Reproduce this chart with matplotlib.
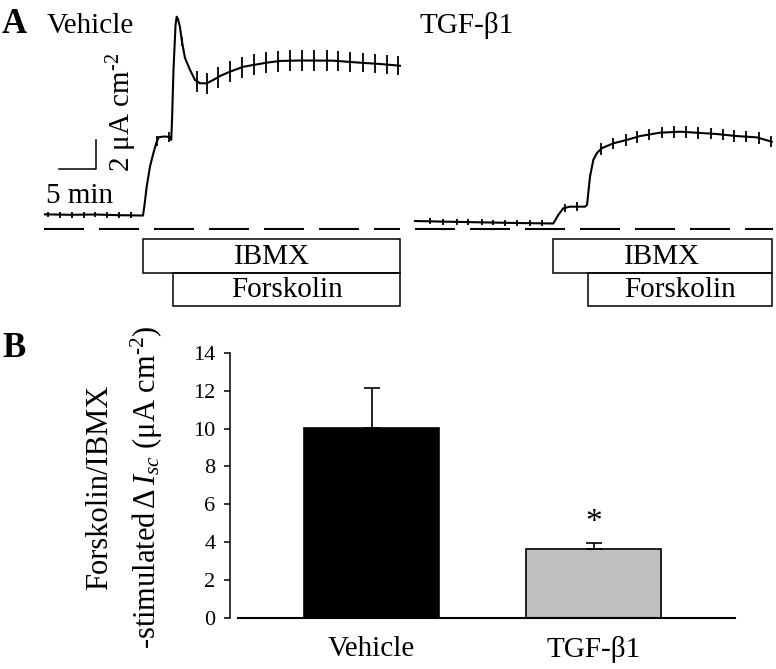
import matplotlib

matplotlib.use("Agg")
import matplotlib.pyplot as plt
import numpy as np
from matplotlib.patches import Rectangle

plt.rcParams["font.family"] = "serif"
plt.rcParams["font.serif"] = ["Liberation Serif", "DejaVu Serif"]
plt.rcParams["mathtext.fontset"] = "custom"
plt.rcParams["mathtext.rm"] = "Liberation Serif"
plt.rcParams["mathtext.it"] = "Liberation Serif:italic"
plt.rcParams["lines.scale_dashes"] = False

# --- panel A: Isc traces (time in min, current in uA/cm2 above the zero line)
veh_t = [0, 3.43, 6.87, 10.30, 13.46, 13.67, 13.97, 14.42, 14.88, 15.34, 15.66, 16.48,
         17.17, 17.34, 17.45, 17.65, 17.93, 18.09, 18.27, 18.54, 18.78, 19.23, 19.92,
         20.60, 21.29, 22.21, 23.12, 24.04, 25.41, 27.24, 30.45, 32.28, 35.03, 39.56,
         43.27, 46.02, 48.76]
veh_i = [1.01, 0.98, 1.00, 0.95, 0.93, 1.66, 2.92, 4.30, 5.22, 6.02, 6.34, 6.38,
         6.34, 6.14, 7.52, 10.97, 14.07, 14.64, 14.48, 13.93, 13.03, 11.79, 10.97,
         10.28, 10.05, 10.05, 10.28, 10.55, 10.85, 11.19, 11.47, 11.59, 11.62, 11.61,
         11.47, 11.38, 11.26]
veh_spike_t = [0.41, 2.06, 3.71, 5.36, 6.87, 8.52, 10.16, 11.81, 15.38, 17.10, 18.82,
               20.84, 22.21, 23.76, 25.41, 27.02, 28.71, 30.36, 32.05, 33.65, 35.26,
               36.95, 38.69, 40.29, 41.90, 43.64, 45.33, 46.94, 48.53]
veh_spike_h = [0.2, 0.2, 0.2, 0.2, 0.2, 0.2, 0.2, 0.2, 0.35, 0.35, 0.3,
               0.72, 0.72, 0.72, 0.72, 0.72, 0.72, 0.72, 0.72, 0.72, 0.72,
               0.7, 0.7, 0.68, 0.68, 0.65, 0.65, 0.63, 0.63]

tgf_t = [0, 4.81, 8.93, 14.42, 19.00, 19.68, 20.37, 21.29, 23.35, 23.63, 23.80, 24.04,
         24.49, 24.96, 25.65, 27.24, 29.08, 30.91, 33.65, 36.40, 38.70, 41.44, 44.19,
         46.94, 49.00]
tgf_i = [0.55, 0.50, 0.46, 0.41, 0.38, 0.97, 1.43, 1.54, 1.54, 1.66, 2.48, 3.61,
         4.76, 5.22, 5.57, 5.91, 6.14, 6.41, 6.64, 6.71, 6.64, 6.55, 6.41, 6.32, 6.02]
tgf_spike_t = [2.06, 3.85, 5.77, 7.28, 9.20, 10.71, 12.36, 14.01, 15.80, 17.45,
               20.60, 22.21, 25.51, 27.24, 28.94, 30.54, 32.14, 33.89, 35.58, 37.23,
               38.92, 40.62, 42.27, 43.86, 45.47, 47.21, 48.86]
tgf_spike_h = [0.2, 0.2, 0.2, 0.2, 0.2, 0.2, 0.2, 0.2, 0.2, 0.2, 0.3, 0.3,
               0.4, 0.4, 0.4, 0.4, 0.4, 0.4, 0.4, 0.4, 0.4, 0.4, 0.4, 0.4, 0.4, 0.4, 0.4]

# drug additions (min) and end of recording
veh_ibmx, veh_forsk, veh_end = 13.5, 17.6, 48.8
tgf_ibmx, tgf_forsk, tgf_end = 18.9, 23.7, 49.0

# --- panel B: summary
groups = ["Vehicle", "TGF-β1"]
means = [10.05, 3.65]
sems = [2.1, 0.32]

W, H = 776, 669
PX_MIN, PX_UA = 7.28, 14.5
ZERO_Y = 229
HY = "\u2010"  # short hyphen for the superscripts, as in the original

fig = plt.figure(figsize=(W / 100, H / 100), dpi=100)


def trace_axes(x_left, x_right, x_origin):
    # same px/unit scale in both trace panels
    ax = fig.add_axes([x_left / W, (H - 310) / H, (x_right - x_left) / W, 300 / H])
    ax.set_xlim((x_left - x_origin) / PX_MIN, (x_right - x_origin) / PX_MIN)
    ax.set_ylim((ZERO_Y - 310) / PX_UA, (ZERO_Y - 10) / PX_UA)
    ax.axis("off")
    return ax


def draw_trace(ax, t, i, spike_t, spike_h, t_ibmx, t_forsk, t_end, dash_x):
    ax.plot(t, i, color="k", lw=1.5, solid_joinstyle="round")
    c = np.interp(spike_t, t, i)
    h = np.array(spike_h)
    ax.vlines(spike_t, c - h, c + h, color="k", lw=1.3)
    ax.plot(dash_x, [0, 0], color="k", lw=1.5, dashes=(28.8, 10.8))
    ax.add_patch(Rectangle((t_ibmx, -3.01), t_end - t_ibmx, 2.32, fill=False, ec="k", lw=1.1))
    ax.add_patch(Rectangle((t_forsk, -5.31), t_end - t_forsk, 2.30, fill=False, ec="k", lw=1.1))
    ax.text((t_ibmx + t_end) / 2, -1.9, "IBMX", ha="center", va="center", fontsize=21)
    ax.text((t_forsk + t_end) / 2, -4.2, "Forskolin", ha="center", va="center", fontsize=21)


ax_v = trace_axes(40, 405, 45)
draw_trace(ax_v, veh_t, veh_i, veh_spike_t, veh_spike_h, veh_ibmx, veh_forsk, veh_end, [-0.14, 48.8])
ax_t = trace_axes(410, 776, 415)
draw_trace(ax_t, tgf_t, tgf_i, tgf_spike_t, tgf_spike_h, tgf_ibmx, tgf_forsk, tgf_end, [0, 49.2])

# scale bar: 5 min x 2 uA cm-2
ax_v.plot([1.96, 6.96, 6.96], [4.12, 4.12, 6.12], color="k", lw=1.1)
ax_v.text(0.2, 1.79, "5 min", ha="left", va="baseline", fontsize=21)
ax_v.text(10.6, 3.93, "2 μA cm$^{" + HY + "2}$", rotation=90, ha="center", va="bottom", fontsize=21)

fig.text(2 / W, 1 - 33 / H, "A", fontsize=25, fontweight="bold", va="baseline")
fig.text(47 / W, 1 - 33 / H, "Vehicle", fontsize=21, va="baseline")
fig.text(420 / W, 1 - 33 / H, "TGF-β1", fontsize=21, va="baseline")

# --- panel B
ax_b = fig.add_axes([230 / W, (H - 617.7) / H, 505 / W, (617.7 - 353) / H])
x = np.arange(len(groups))
ax_b.bar(x, means, width=0.608, color=["black", "#c0c0c0"], edgecolor="black", lw=1.2,
         yerr=[[0, 0], sems], capsize=6, error_kw=dict(elinewidth=1.2, capthick=1.2), zorder=2)
ax_b.set_xlim(-0.638, 1.636)
ax_b.set_ylim(0, 14)
ax_b.set_yticks(range(0, 15, 2))
ax_b.set_xticks(x)
ax_b.set_xticklabels(groups, fontsize=21)
ax_b.tick_params(axis="x", length=0, pad=13)
ax_b.tick_params(axis="y", direction="out", length=4.5, width=1.1, pad=6, labelsize=16)
for s in ["top", "right", "bottom"]:
    ax_b.spines[s].set_visible(False)
ax_b.spines["left"].set_linewidth(1.1)
ax_b.axhline(0, xmin=0.016, xmax=1, color="k", lw=1.5, clip_on=False, zorder=3)
ax_b.text(1, 4.6, "*", ha="center", va="baseline", fontsize=24)

fig.text(100 / W, 1 - 487 / H, "Forskolin/IBMX", rotation=90, ha="center", va="center", fontsize=22)
fig.text(147 / W, 1 - 487 / H, r"-stimulated$\,\Delta\,I_{sc}$ (μA cm$^{" + HY + "2}$)", rotation=90,
         ha="center", va="center", fontsize=22)
fig.text(2 / W, 1 - 357 / H, "B", fontsize=25, fontweight="bold", va="baseline")

fig.savefig("out.png", dpi=100)
